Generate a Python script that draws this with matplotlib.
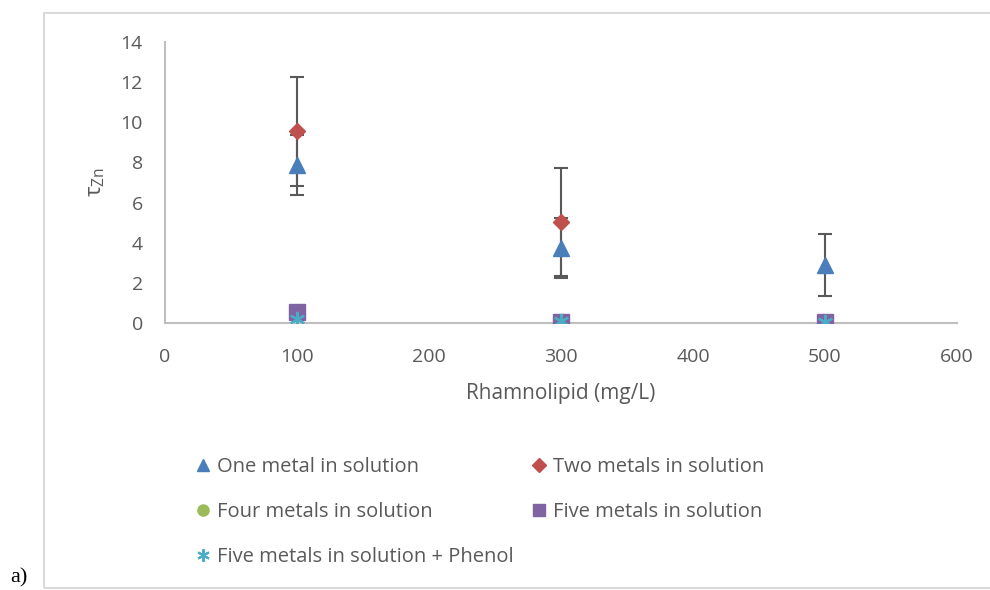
import matplotlib
matplotlib.use("Agg")
import matplotlib.pyplot as plt
from matplotlib.patches import Rectangle
from matplotlib.lines import Line2D

# Rhamnolipid concentrations (mg/L)
conc = [100, 300, 500]

one_metal = [7.87, 3.74, 2.9]
one_metal_err = [1.5, 1.5, 1.55]
two_metals = [9.55, 5.03, 0.05]
two_metals_err = [2.7, 2.7, 0.0]
four_metals = [0.55, 0.05, 0.05]
five_metals = [0.55, 0.05, 0.05]
five_phenol = [0.2, 0.08, 0.05]

labels = ["One metal in solution", "Two metals in solution",
          "Four metals in solution", "Five metals in solution",
          "Five metals in solution + Phenol"]

txt = "#595959"
plt.rcParams['font.family'] = ['Open Sans', 'DejaVu Sans']
plt.rcParams['mathtext.fontset'] = 'custom'
plt.rcParams['mathtext.rm'] = 'Open Sans'
plt.rcParams['mathtext.it'] = 'Open Sans'

fig = plt.figure(figsize=(9.9, 5.9), dpi=100)
ax = fig.add_axes([165/990, 1 - 323/590, (957-165)/990, (323-42)/590])

ebar = dict(ecolor="#595959", elinewidth=1.5, capsize=5, capthick=1.5, linestyle="none")
ax.errorbar(conc, one_metal, yerr=one_metal_err, marker="^", ms=11,
            color="#4A7EBB", mec="#4A7EBB", zorder=3, **ebar)
ax.errorbar(conc, two_metals, yerr=two_metals_err, marker="D", ms=8,
            color="#C0504D", mec="#C0504D", zorder=3, **ebar)
ax.plot(conc, four_metals, "o", ms=10, color="#9BBB59", zorder=4)
ax.plot(conc, five_metals, "s", ms=11, color="#8064A2", zorder=5)
ax.plot(conc, five_phenol, marker=(6, 2, 0), ms=11, mew=1.6,
        linestyle="none", color="#4BACC6", zorder=6)

ax.set_xlim(0, 600)
ax.set_ylim(0, 14)
ax.set_xticks(range(0, 601, 100))
ax.set_yticks(range(0, 15, 2))
for s in ["top", "right"]:
    ax.spines[s].set_visible(False)
for s in ["left", "bottom"]:
    ax.spines[s].set_color("#BFBFBF")
    ax.spines[s].set_linewidth(1.5)
ax.tick_params(length=0, labelsize=14, labelcolor=txt)
ax.tick_params(axis="y", pad=16)
ax.tick_params(axis="x", pad=18)
ax.set_xlabel("Rhamnolipid (mg/L)", fontsize=15, color=txt, labelpad=12)
ax.set_ylabel(r"$\tau_{\mathrm{Zn}}$", fontsize=16, color=txt, labelpad=10)

# legend proxies, column-wise so rows read One/Two, Four/Five, Phenol
def proxy(m, c, ms, mew=1):
    return Line2D([], [], linestyle="none", marker=m, color=c, ms=ms, mew=mew)

hs = [proxy("^", "#4A7EBB", 9), proxy("o", "#9BBB59", 8), proxy((6, 2, 0), "#4BACC6", 9, 1.5),
      proxy("D", "#C0504D", 7), proxy("s", "#8064A2", 9)]
ls = [labels[0], labels[2], labels[4], labels[1], labels[3]]
fig.legend(hs, ls, loc="upper left", bbox_to_anchor=(177/990, 1 - 439/590),
           ncol=2, frameon=False, fontsize=14.5, labelcolor=txt,
           handlelength=0.8, handletextpad=0.3, columnspacing=0.85,
           labelspacing=1.25)

fig.patches.append(Rectangle((44/990, 2/590), 1.2, 1 - 15/590, transform=fig.transFigure,
                             fill=False, edgecolor="#D9D9D9", lw=1.5))
fig.text(10/990, 8/590, "a)", fontsize=16, family="Liberation Serif", color="black")

fig.savefig("out.png", dpi=100)
